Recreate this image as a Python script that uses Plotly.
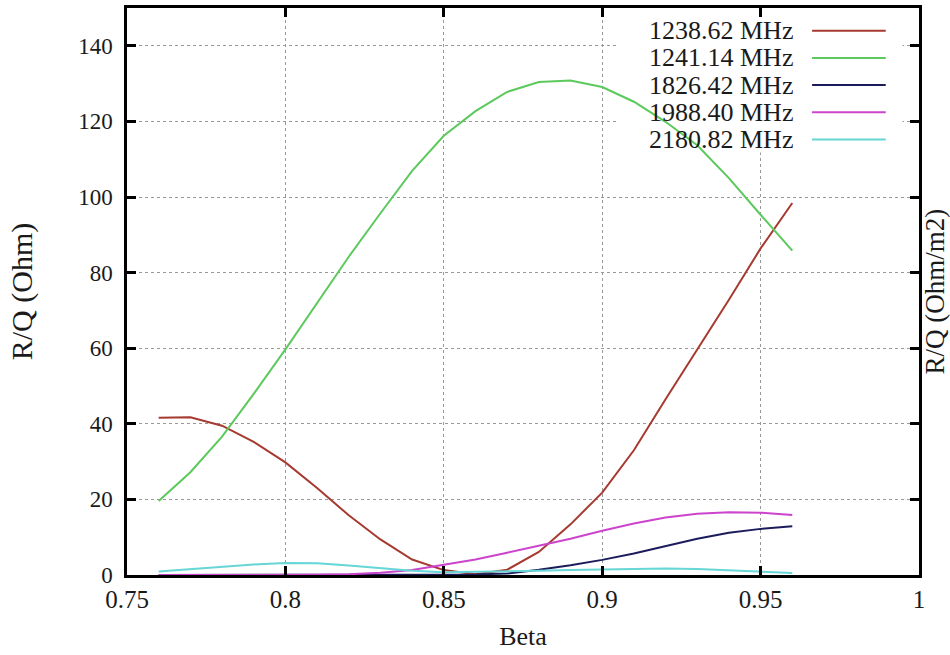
import plotly.graph_objects as go

beta = [0.76, 0.77, 0.78, 0.79, 0.80, 0.81, 0.82, 0.83, 0.84, 0.85, 0.86,
        0.87, 0.88, 0.89, 0.90, 0.91, 0.92, 0.93, 0.94, 0.95, 0.96]

rq_1238 = [41.6, 41.7, 39.5, 35.2, 29.8, 23.0, 15.8, 9.4, 4.1, 1.3, 0.2,
           1.4, 6.1, 13.4, 21.8, 33.0, 46.5, 59.5, 72.8, 86.4, 98.4]
rq_1241 = [19.6, 27.2, 36.6, 47.9, 59.7, 71.8, 84.2, 95.7, 106.9, 116.2, 122.7,
           127.8, 130.4, 130.8, 129.1, 125.2, 119.9, 113.7, 105.0, 95.3, 85.8]
rq_1826 = [0.0, 0.0, 0.0, 0.0, 0.0, 0.0, 0.0, 0.0, 0.0, 0.05, 0.15,
           0.4, 1.4, 2.6, 4.0, 5.7, 7.6, 9.6, 11.2, 12.2, 12.9]
rq_1988 = [0.0, 0.0, 0.0, 0.0, 0.0, 0.05, 0.2, 0.6, 1.3, 2.6, 4.1,
           5.9, 7.7, 9.6, 11.7, 13.6, 15.2, 16.2, 16.6, 16.5, 15.9]
rq_2180 = [0.9, 1.5, 2.2, 2.8, 3.2, 3.1, 2.5, 1.7, 1.1, 0.7, 0.8,
           0.9, 1.1, 1.3, 1.4, 1.6, 1.7, 1.6, 1.3, 0.9, 0.5]

names = ["1238.62 MHz", "1241.14 MHz", "1826.42 MHz", "1988.40 MHz", "2180.82 MHz"]
series = [rq_1238, rq_1241, rq_1826, rq_1988, rq_2180]
colors = ["#a63a30", "#5cc95c", "#1c1c5c", "#cc44cc", "#66d6d6"]

x_ticks = [0.75, 0.8, 0.85, 0.9, 0.95, 1.0]
x_ticklabels = ["0.75", "0.8", "0.85", "0.9", "0.95", "1"]
y_ticks = [0, 20, 40, 60, 80, 100, 120, 140]

FONT = "Liberation Serif"
TXT = "#1a1a1a"

fig = go.Figure()
for name, ys, col in zip(names, series, colors):
    fig.add_trace(go.Scatter(x=beta, y=ys, mode="lines", name=name,
                             line=dict(color=col, width=2), showlegend=False))

axis_common = dict(showline=True, linecolor="black", linewidth=2.5, mirror="ticks",
                   ticks="inside", ticklen=9, tickwidth=2.5, tickcolor="black",
                   showgrid=True, gridcolor="#999999", griddash="dot", gridwidth=1,
                   zeroline=False)

fig.update_xaxes(range=[0.75, 1.0], tickvals=x_ticks, ticktext=x_ticklabels,
                 tickfont=dict(family=FONT, size=25, color=TXT),
                 title=dict(text="Beta", font=dict(family=FONT, size=26, color=TXT), standoff=16),
                 **axis_common)
fig.update_yaxes(range=[0, 150], tickvals=y_ticks, ticklabelstandoff=7,
                 tickfont=dict(family=FONT, size=23, color=TXT),
                 title=dict(text="R/Q (Ohm)", font=dict(family=FONT, size=30, color=TXT), standoff=37),
                 **axis_common)

# white background behind the key (above grid, below curves)
shapes = [dict(type="rect", xref="x", yref="y", x0=0.9048, x1=0.9948,
               y0=111.8, y1=149.6, fillcolor="white", line=dict(width=0), layer="between")]
annotations = []
row_y = [0.96, 0.912, 0.864, 0.816, 0.768]
for name, col, yy in zip(names, colors, row_y):
    annotations.append(dict(xref="x domain", yref="y domain", x=0.843, y=yy, text=name,
                            showarrow=False, xanchor="right", yanchor="middle",
                            font=dict(family=FONT, size=26, color=TXT)))
    shapes.append(dict(type="line", xref="x domain", yref="y domain", x0=0.865, x1=0.958,
                       y0=yy, y1=yy, line=dict(color=col, width=2)))

annotations.append(dict(xref="paper", yref="paper", x=1.0, xshift=15, y=0.5, text="R/Q (Ohm/m2)",
                        textangle=-90, showarrow=False, xanchor="center", yanchor="middle",
                        font=dict(family=FONT, size=27, color=TXT)))

fig.update_layout(width=950, height=655, margin=dict(l=127, r=31, t=5, b=80),
                  paper_bgcolor="white", plot_bgcolor="white",
                  shapes=shapes, annotations=annotations)

fig.write_html("out.html")
